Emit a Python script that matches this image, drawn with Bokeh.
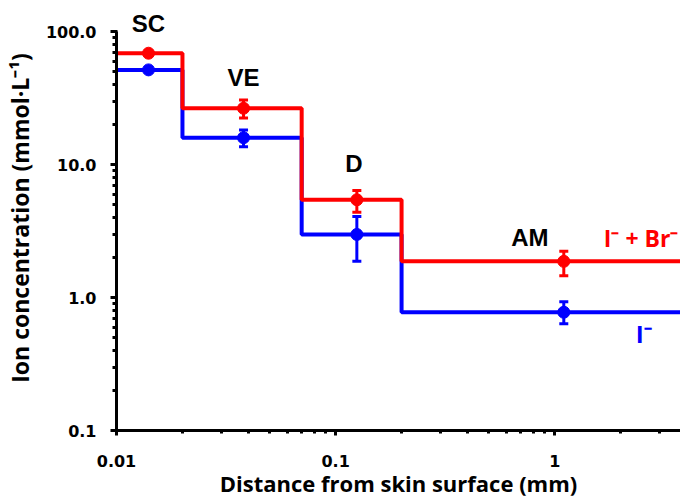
import math
from bokeh.plotting import figure
from bokeh.models import Range1d, FixedTicker, Label
from bokeh.embed import file_html
from bokeh.resources import INLINE

nan = float("nan")

# ---------------- data ----------------
region_names = ["SC", "VE", "D", "AM"]
region_edges = [0.01, 0.02, 0.07, 0.2]          # start of each layer (mm)
point_x = [0.014, 0.038, 0.125, 1.10]            # measurement depth (mm)

red_mean = [68.7, 26.5, 5.43, 1.87]              # I- + Br-
red_upper = [nan, 30.6, 6.38, 2.23]
red_lower = [nan, 22.4, 4.38, 1.46]

blue_mean = [51.5, 15.9, 2.98, 0.775]            # I-
blue_upper = [nan, 18.2, 4.06, 0.928]
blue_lower = [nan, 13.6, 1.87, 0.634]

x_tick_values = [0.01, 0.1, 1]
x_tick_labels = ["0.01", "0.1", "1"]
x_minor_values = [0.02, 0.03, 0.04, 0.05, 0.06, 0.07, 0.08, 0.09,
                  0.2, 0.3, 0.4, 0.5, 0.6, 0.7, 0.8, 0.9, 2, 3]
y_tick_values = [0.1, 1, 10, 100]
y_tick_labels = ["0.1", "1.0", "10.0", "100.0"]
y_minor_values = [m * d for d in (0.1, 1, 10) for m in range(2, 10)]

series_names = ["I\u207b + Br\u207b", "I\u207b"]

# ---------------- layout / style ----------------
RED = "#ff0000"
BLUE = "#0000ff"
X_END = 3.75
Y_END = 157          # headroom above the axis (axis itself stops at 100)

p = figure(width=680, height=501, x_axis_type="log", y_axis_type="log",
           x_range=Range1d(0.01, X_END), y_range=Range1d(0.1, Y_END),
           output_backend="svg", toolbar_location=None,
           min_border_left=115, min_border_right=0,
           min_border_top=5, min_border_bottom=71)
p.outline_line_color = None
p.xgrid.visible = False
p.ygrid.visible = False
p.background_fill_color = "white"
p.border_fill_color = "white"

p.xaxis.ticker = FixedTicker(ticks=x_tick_values, minor_ticks=x_minor_values)
p.yaxis.ticker = FixedTicker(ticks=y_tick_values, minor_ticks=y_minor_values)
p.xaxis.major_label_overrides = dict(zip(x_tick_values, x_tick_labels))
p.yaxis.major_label_overrides = dict(zip(y_tick_values, y_tick_labels))
p.yaxis.bounds = (y_tick_values[0], y_tick_values[-1])

for ax in (p.xaxis[0], p.yaxis[0]):
    ax.axis_line_width = 3
    ax.axis_line_color = "black"
    ax.major_tick_line_width = 3
    ax.minor_tick_line_width = 3
    ax.major_tick_line_color = "black"
    ax.minor_tick_line_color = "black"
    ax.major_tick_out = 6
    ax.major_tick_in = 1
    ax.minor_tick_out = 4
    ax.minor_tick_in = 0
    ax.major_label_text_font = "DejaVu Sans"
    ax.major_label_text_font_style = "bold"
    ax.major_label_text_font_size = "16px"
    ax.major_label_text_color = "black"
    ax.axis_label_text_font = "Open Sans"
    ax.axis_label_text_font_style = "bold"
    ax.axis_label_text_font_size = "23px"
    ax.axis_label_text_color = "black"

p.xaxis.major_tick_out = 5
p.xaxis.minor_tick_out = 3
p.xaxis.axis_label_text_font_size = "22px"
p.xaxis.axis_label = "Distance from skin surface (mm)"
p.yaxis.axis_label = "Ion concentration (mmol\u00b7L\u207b\u00b9)"
p.xaxis.major_label_standoff = 19
p.xaxis.axis_label_standoff = -2
p.yaxis.major_label_standoff = 14
p.yaxis.axis_label_standoff = 7

# step lines (blue first, red on top)
step_x = region_edges + [X_END]
p.step(step_x, blue_mean + [blue_mean[-1]], mode="after", line_color=BLUE, line_width=4)
p.step(step_x, red_mean + [red_mean[-1]], mode="after", line_color=RED, line_width=4)

# error bars + markers
for mean, up, lo, col in ((blue_mean, blue_upper, blue_lower, BLUE),
                          (red_mean, red_upper, red_lower, RED)):
    p.segment(x0=point_x, y0=lo, x1=point_x, y1=up, line_color=col, line_width=3)
    p.scatter(point_x, up, marker="dash", size=9, line_color=col, line_width=3)
    p.scatter(point_x, lo, marker="dash", size=9, line_color=col, line_width=3)
    p.scatter(point_x, mean, marker="circle", size=12, fill_color=col, line_color=col)

# layer labels
label_dy = [30, 31, 36, 24]
label_dx = [0, 0, -3, -34]
for name, x, y, dx, dy in zip(region_names, point_x, red_mean, label_dx, label_dy):
    p.add_layout(Label(x=x, y=y, x_offset=dx, y_offset=dy, text=name,
                       text_align="center", text_baseline="middle",
                       text_font="Liberation Sans", text_font_style="bold",
                       text_font_size="24px", text_color="black"))

# series labels
p.add_layout(Label(x=point_x[-1], y=red_mean[-1], x_offset=40, y_offset=23,
                   text=series_names[0], text_align="left", text_baseline="middle",
                   text_font="Open Sans", text_font_style="bold",
                   text_font_size="23px", text_color=RED))
p.add_layout(Label(x=point_x[-1], y=blue_mean[-1], x_offset=80, y_offset=-21,
                   text=series_names[1], text_align="center", text_baseline="middle",
                   text_font="Open Sans", text_font_style="bold",
                   text_font_size="24px", text_color=BLUE))

open("out.html", "w").write(file_html(p, INLINE))
